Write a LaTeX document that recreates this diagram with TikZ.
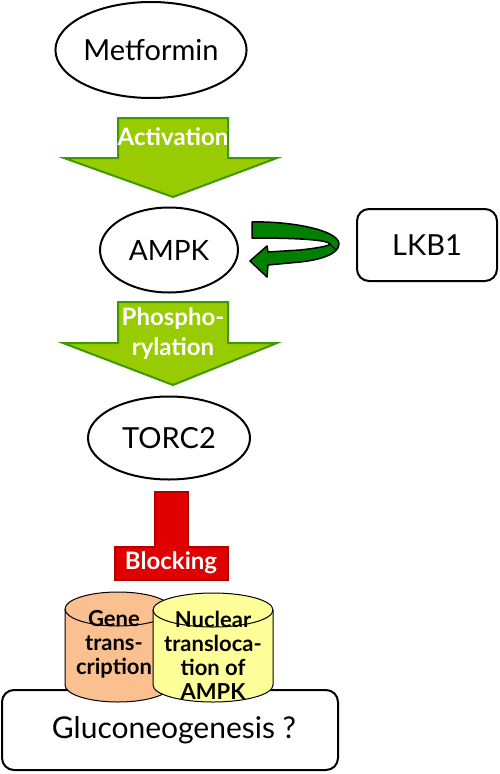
\documentclass[tikz,border=0pt]{standalone}
\usepackage{fontspec}
\setmainfont{Lato}
\usetikzlibrary{shapes.geometric}
\definecolor{lgreen}{HTML}{99CC00}
\definecolor{lgreenb}{HTML}{3C9A00}
\definecolor{dgreen}{HTML}{007F00}
\definecolor{bred}{HTML}{E00000}
\definecolor{bredb}{HTML}{B00000}
\definecolor{peach}{HTML}{FAC090}
\definecolor{lyellow}{HTML}{FFFF99}
\tikzset{
  oval/.style={ellipse, draw=black, line width=2pt, fill=white, inner sep=0pt},
  rbox/.style={draw=black, line width=2pt, rounded corners=12pt, fill=white},
  biglabel/.style={font=\fontsize{29}{34}\selectfont},
  arrowlabel/.style={font=\bfseries\fontsize{24}{29}\selectfont, text=white, align=center},
  cyllabel/.style={font=\bfseries\fontsize{22}{24}\selectfont, text=black, align=center},
  greenarrow/.style={fill=lgreen, draw=lgreenb, line width=2pt, line join=miter},
}
\begin{document}
\begin{tikzpicture}[x=1pt,y=-1pt]
\useasboundingbox (0,0) rectangle (500,774);
% Metformin
\node[oval, minimum width=186pt, minimum height=96pt, biglabel] (met) at (151,50) {Metformin};
% Activation arrow
\draw[greenarrow] (118,118) -- (228,118) -- (228,158) -- (277,158) -- (173,197) -- (64,158) -- (118,158) -- cycle;
\node[arrowlabel] (act) at (173,137) {Activation};
% AMPK
\node[oval, minimum width=138pt, minimum height=85pt, font=\fontsize{28}{34}\selectfont] (ampk) at (169,250) {AMPK};
% LKB1
\node[rbox, minimum width=140pt, minimum height=72pt, biglabel] (lkb) at (427,245) {LKB1};
% curved arrow
\draw[fill=dgreen, draw=black, line width=1.5pt, line join=round]
  (252,222) .. controls (290,221) and (339,230) .. (339,244)
  .. controls (339,254) and (320,260) .. (300,262) -- (268,265) -- (267,277) -- (250,261) -- (267,246) -- (268,252)
  -- (300,250) .. controls (318,248) and (329,246) .. (330,244)
  .. controls (328,240) and (300,238) .. (252,238) -- cycle;
\draw[black, line width=1pt] (330,244) .. controls (333,247) and (336,250) .. (336,250);
% Phosphorylation arrow
\draw[greenarrow] (118,302) -- (228,302) -- (228,343) -- (277,343) -- (173,385) -- (63,343) -- (118,343) -- cycle;
\node[arrowlabel, font=\bfseries\fontsize{24}{30}\selectfont] (pho) at (173,334) {Phospho-\\rylation};
% TORC2
\node[oval, minimum width=162pt, minimum height=83pt, biglabel] (torc) at (169,438) {TORC2};
% Blocking T
\draw[fill=bred, draw=bredb, line width=1.5pt] (155,492) -- (188,492) -- (188,547) -- (228,547) -- (228,580) -- (115,580) -- (115,547) -- (155,547) -- cycle;
\node[arrowlabel] (blk) at (171,563) {Blocking};
% Gluconeogenesis box
\node[rbox, minimum width=336pt, minimum height=80pt, font=\fontsize{30}{36}\selectfont] (glu) at (170,730) {\hspace*{8pt}Gluconeogenesis ?};
% Orange cylinder
\draw[fill=peach, draw=black, line width=1pt] (65,609) -- (65,685) arc[start angle=180, end angle=360, x radius=53, y radius=-17] -- (171,609) arc[start angle=0, end angle=180, x radius=53, y radius=-17] -- cycle;
\draw[black, line width=1pt] (65,609) arc[start angle=180, end angle=360, x radius=53, y radius=-17];
\node[cyllabel] (gene) at (114,644) {Gene\\trans-\\cription};
% Yellow cylinder
\draw[fill=lyellow, draw=black, line width=1pt] (153,610) -- (153,685) arc[start angle=180, end angle=360, x radius=60, y radius=-17] -- (273,610) arc[start angle=0, end angle=180, x radius=60, y radius=-17] -- cycle;
\draw[black, line width=1pt] (153,610) arc[start angle=180, end angle=360, x radius=60, y radius=-17];
\node[cyllabel] (nuc) at (213,655) {Nuclear\\transloca-\\tion of\\AMPK};
\end{tikzpicture}
\end{document}
